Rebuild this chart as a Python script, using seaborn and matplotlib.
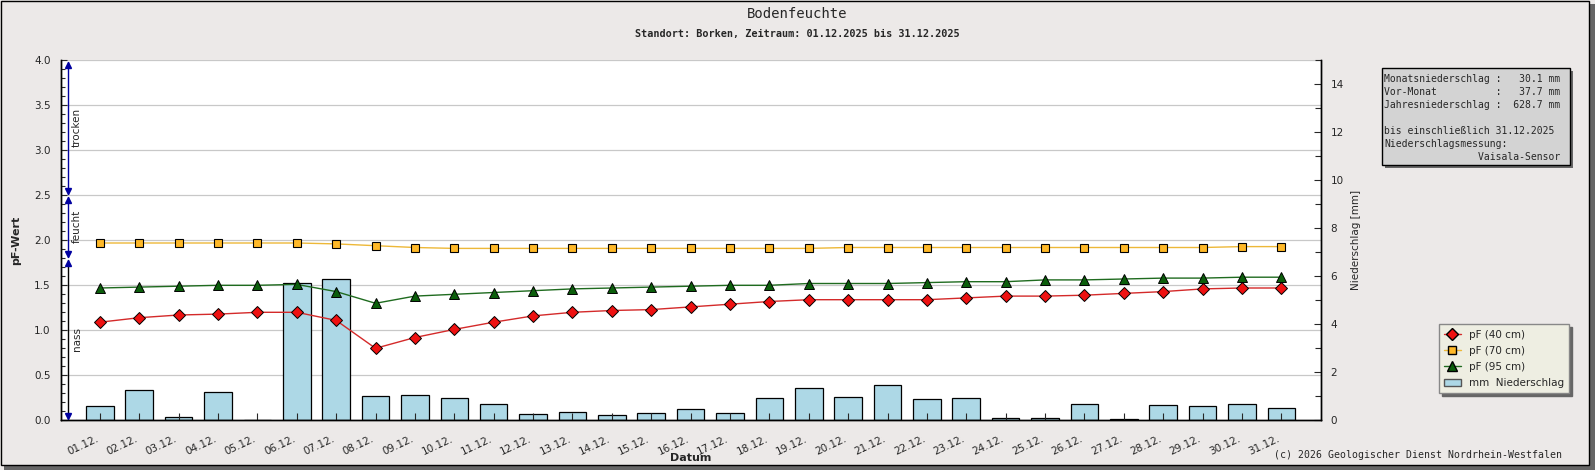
import numpy as np
import pandas as pd
import matplotlib.pyplot as plt
import matplotlib.transforms as mtransforms
import seaborn as sns
from matplotlib.lines import Line2D
from matplotlib.patches import Patch, Rectangle
from matplotlib.ticker import MultipleLocator, FormatStrFormatter

# ------------------------------
# data
# ------------------------------
days = ["01.12.", "02.12.", "03.12.", "04.12.", "05.12.", "06.12.", "07.12.",
        "08.12.", "09.12.", "10.12.", "11.12.", "12.12.", "13.12.", "14.12.",
        "15.12.", "16.12.", "17.12.", "18.12.", "19.12.", "20.12.", "21.12.",
        "22.12.", "23.12.", "24.12.", "25.12.", "26.12.", "27.12.", "28.12.",
        "29.12.", "30.12.", "31.12."]

pf_40 = [1.09, 1.14, 1.17, 1.18, 1.20, 1.20, 1.11, 0.80, 0.92, 1.01, 1.09,
         1.16, 1.20, 1.22, 1.23, 1.26, 1.29, 1.32, 1.34, 1.34, 1.34, 1.34,
         1.36, 1.38, 1.38, 1.39, 1.41, 1.43, 1.46, 1.47, 1.47]

pf_70 = [1.97, 1.97, 1.97, 1.97, 1.97, 1.97, 1.96, 1.94, 1.92, 1.91, 1.91,
         1.91, 1.91, 1.91, 1.91, 1.91, 1.91, 1.91, 1.91, 1.92, 1.92, 1.92,
         1.92, 1.92, 1.92, 1.92, 1.92, 1.92, 1.92, 1.93, 1.93]

pf_95 = [1.47, 1.48, 1.49, 1.50, 1.50, 1.51, 1.43, 1.30, 1.38, 1.40, 1.42,
         1.44, 1.46, 1.47, 1.48, 1.49, 1.50, 1.50, 1.52, 1.52, 1.52, 1.53,
         1.54, 1.54, 1.56, 1.56, 1.57, 1.58, 1.58, 1.59, 1.59]

niederschlag = [0.60, 1.25, 0.12, 1.20, 0.00, 5.71, 5.88, 1.00, 1.04, 0.92,
                0.70, 0.25, 0.33, 0.21, 0.29, 0.46, 0.29, 0.92, 1.33, 0.96,
                1.46, 0.88, 0.92, 0.08, 0.08, 0.70, 0.04, 0.62, 0.58, 0.70,
                0.50]

zone_names = ["trocken", "feucht", "nass"]
zone_bounds = [(2.5, 4.0), (1.8, 2.5), (0.0, 1.8)]
zone_colors = ["#0000a0", "#0000a0", "black"]

info_lines = ["Monatsniederschlag :   30.1 mm",
              "Vor-Monat          :   37.7 mm",
              "Jahresniederschlag :  628.7 mm",
              "",
              "bis einschließlich 31.12.2025",
              "Niederschlagsmessung:",
              "                Vaisala-Sensor"]

df = pd.DataFrame({"idx": np.arange(len(days)), "tag": days,
                   "pf40": pf_40, "pf70": pf_70, "pf95": pf_95,
                   "mm": niederschlag})

PF_MAX = 4.0
MM_MAX = 15.0

# colours
BG = "#ECE9E8"
GRID = "#C8C8C8"
RED_LINE, RED_FILL = "#D42A2A", "#EE1111"
YEL_LINE, YEL_FILL = "#EDB838", "#FFB928"
GRN_LINE, GRN_FILL = "#1F6B1F", "#0B5E0B"
BAR = "#ADD8E6"

sns.set_style("ticks")
plt.rcParams["font.family"] = ["DejaVu Sans"]

W, H = 1595, 470
fig = plt.figure(figsize=(W / 100, H / 100), dpi=100)
fig.patch.set_facecolor(BG)

x0, x1, y0, y1 = 60.5, 1320.7, 60.3, 420.3
ax = fig.add_axes([x0 / W, 1 - y1 / H, (x1 - x0) / W, (y1 - y0) / H])
ax2 = ax.twinx()

# bars on the right (mm) axis, drawn below the pF lines
ax2.patch.set_visible(True)
ax2.patch.set_facecolor("white")
ax.patch.set_visible(False)
ax.set_zorder(ax2.get_zorder() + 1)

for v in np.arange(0.5, PF_MAX + 0.01, 0.5):
    ax2.axhline(v * MM_MAX / PF_MAX, color=GRID, lw=0.9, zorder=0)

sns.barplot(data=df, x="idx", y="mm", ax=ax2, native_scale=True, width=0.7,
            color=BAR, saturation=1, edgecolor="black", linewidth=0.9,
            errorbar=None, zorder=2)

# pF lines
sns.lineplot(data=df, x="idx", y="pf40", ax=ax, color=RED_LINE, lw=1,
             marker="D", markersize=6, markerfacecolor=RED_FILL,
             markeredgecolor="black", markeredgewidth=0.7)
sns.lineplot(data=df, x="idx", y="pf70", ax=ax, color=YEL_LINE, lw=1,
             marker="s", markersize=5.5, markerfacecolor=YEL_FILL,
             markeredgecolor="black", markeredgewidth=0.8)
sns.lineplot(data=df, x="idx", y="pf95", ax=ax, color=GRN_LINE, lw=1,
             marker="^", markersize=6.5, markerfacecolor=GRN_FILL,
             markeredgecolor="black", markeredgewidth=0.7)

# axes
ax.set_xlim(-1, len(days))
ax.set_ylim(0, PF_MAX)
ax2.set_ylim(0, MM_MAX)

ax.set_xticks(df["idx"])
ax.set_xticklabels(days, rotation=25, ha="right", va="top")
ax.yaxis.set_major_locator(MultipleLocator(0.5))
ax.yaxis.set_minor_locator(MultipleLocator(0.1))
ax.yaxis.set_major_formatter(FormatStrFormatter("%.1f"))
ax2.yaxis.set_major_locator(MultipleLocator(2))
ax2.yaxis.set_minor_locator(MultipleLocator(1))

ax.tick_params(axis="x", direction="in", length=5, width=0.8, pad=10,
               labelsize=7.5, top=False)
ax.tick_params(axis="y", which="major", direction="in", length=4, width=0.8,
               pad=7, labelsize=7.5, right=False)
ax.tick_params(axis="y", which="minor", direction="in", length=3, width=0.8,
               right=False)
ax2.tick_params(axis="y", which="major", direction="in", length=5, width=0.8,
                pad=7, labelsize=7.5)
ax2.tick_params(axis="y", which="minor", direction="in", length=4, width=0.8)

for a in (ax, ax2):
    a.spines["top"].set_visible(False)
    for s in ("left", "right", "bottom"):
        a.spines[s].set_color("black")
        a.spines[s].set_linewidth(1)
    a.grid(False)

ax.set_xlabel("Datum", fontsize=8, fontweight="bold")
ax.xaxis.set_label_coords(0.5, -0.092)
ax.set_ylabel("pF-Wert", fontsize=8, fontweight="bold")
ax.yaxis.set_label_coords(-0.031, 0.5)
ax2.set_ylabel("Niederschlag [mm]", fontsize=7.5)
ax2.yaxis.set_label_coords(1.024, 0.5)

# moisture zones on the left edge
trans = mtransforms.blended_transform_factory(ax.transAxes, ax.transData)
xa, xt = 0.0062, 0.0129
for name, (lo, hi), col in zip(zone_names, zone_bounds, zone_colors):
    ax.plot([xa, xa], [lo + 0.02, hi - 0.02], color=col, lw=1,
            transform=trans, clip_on=False, zorder=5)
    ax.plot([xa], [hi - 0.05], marker="^", ms=4.5, color="#0000a0",
            transform=trans, clip_on=False, zorder=6)
    ax.plot([xa], [lo + 0.05], marker="v", ms=4.5, color="#0000a0",
            transform=trans, clip_on=False, zorder=6)
    ax.text(xt, (lo + hi) / 2, name, rotation=90, ha="center", va="center",
            fontsize=7.5, transform=trans)

# legend
handles = [
    Line2D([0], [0], color=RED_LINE, lw=1, marker="D", ms=6,
           markerfacecolor=RED_FILL, markeredgecolor="black"),
    Line2D([0], [0], color=YEL_LINE, lw=1, marker="s", ms=5.5,
           markerfacecolor=YEL_FILL, markeredgecolor="black"),
    Line2D([0], [0], color=GRN_LINE, lw=1, marker="^", ms=6.5,
           markerfacecolor=GRN_FILL, markeredgecolor="black"),
    Patch(facecolor=BAR, edgecolor="#555555"),
]
labels = ["pF (40 cm)", "pF (70 cm)", "pF (95 cm)", "mm  Niederschlag"]
fig.legend(handles, labels, loc="upper right",
           bbox_to_anchor=(1569.3 / W, 1 - 324.3 / H), borderaxespad=0,
           fontsize=7.5, handlelength=1.6, labelspacing=0.6, borderpad=0.5,
           fancybox=False, framealpha=1, facecolor="#EEEEE2",
           edgecolor="#888888", shadow={"color": "#666666", "alpha": 1})

# info box
bx0, bx1, by0, by1 = 1381.7, 1570.3, 68.3, 165.3
fig.add_artist(Rectangle(((bx0 + 3) / W, 1 - (by1 + 3) / H), (bx1 - bx0) / W,
                         (by1 - by0) / H, transform=fig.transFigure,
                         facecolor="#666666", edgecolor="none"))
fig.add_artist(Rectangle((bx0 / W, 1 - by1 / H), (bx1 - bx0) / W,
                         (by1 - by0) / H, transform=fig.transFigure,
                         facecolor="#D3D3D3", edgecolor="black", lw=1))
for i, line in enumerate(info_lines):
    fig.text(1384.5 / W, 1 - (79.3 + 13 * i) / H, line, ha="left",
             va="center", family="DejaVu Sans Mono", fontsize=7.0)

# titles and footer
fig.text(797 / W, 1 - 14.3 / H, "Bodenfeuchte", ha="center", va="center",
         family="DejaVu Sans Mono", fontsize=10)
fig.text(797 / W, 1 - 33.7 / H,
         "Standort: Borken, Zeitraum: 01.12.2025 bis 31.12.2025",
         ha="center", va="center", family="DejaVu Sans Mono",
         fontweight="bold", fontsize=7.3)
fig.text(1562 / W, 1 - 455 / H,
         "(c) 2026 Geologischer Dienst Nordrhein-Westfalen",
         ha="right", va="center", family="DejaVu Sans Mono", fontsize=7.1)

# figure frame with drop shadow
fig.add_artist(Rectangle((1 - 6 / W, 0), 6 / W, 1 - 4 / H,
                         transform=fig.transFigure, facecolor="#666666",
                         edgecolor="none"))
fig.add_artist(Rectangle((4 / W, 0), 1 - 4 / W, 5 / H,
                         transform=fig.transFigure, facecolor="#666666",
                         edgecolor="none"))
fig.add_artist(Rectangle((0.5 / W, 5 / H), 1 - 6.5 / W, 1 - 5.5 / H,
                         transform=fig.transFigure, fill=False,
                         edgecolor="black", lw=1))

fig.savefig("out.png", dpi=100, facecolor=BG)
